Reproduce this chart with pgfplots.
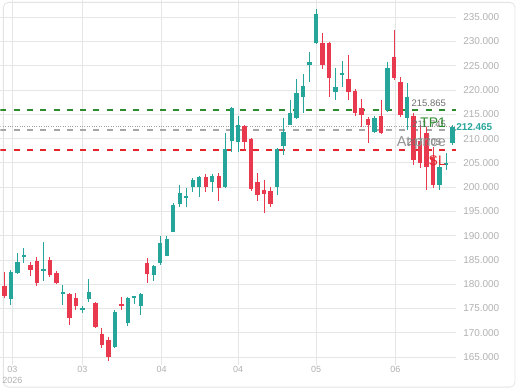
\documentclass[border=0pt]{standalone}
\usepackage{fontspec}
\setmainfont{Liberation Sans}
\usepackage{pgfplots}
\usepackage{pgfplotstable}
\pgfplotsset{compat=1.18}
\definecolor{up}{HTML}{26A69A}
\definecolor{dn}{HTML}{E8394F}
\definecolor{tpg}{HTML}{2E8B2E}
\definecolor{slr}{HTML}{E3262B}
\definecolor{gridc}{HTML}{E6E6E6}
\definecolor{lblc}{HTML}{B0B0B0}
\definecolor{txtg}{HTML}{6E6E6E}

\pgfplotstableread{
i o h l c
2 176.9 182.9 175.7 182.5
3 182.3 186.4 182.1 184.5
4 185.8 187.4 184.3 186.0
7 182.9 188.7 180.6 183.1
10 178.0 179.8 175.7 178.4
13 174.7 175.5 174.1 175.1
14 176.9 181.0 176.3 178.4
18 167.1 174.7 166.9 174.3
20 172.0 177.3 171.4 177.1
21 177.1 177.6 175.9 177.6
22 175.5 178.2 173.6 178.0
24 181.9 183.9 180.6 183.7
25 184.3 189.9 183.9 188.5
26 185.8 189.9 185.8 189.3
27 190.7 196.7 190.7 196.3
28 196.5 200.4 195.9 198.7
29 197.7 199.8 195.9 198.1
30 200.0 201.8 198.9 201.4
31 200.0 202.2 197.9 202.0
33 201.0 202.7 198.9 202.2
35 200.0 211.1 199.8 207.8
36 209.6 216.6 207.2 216.4
37 209.4 214.6 207.2 212.9
43 200.0 208.0 198.3 207.8
44 208.4 214.2 206.6 211.3
45 212.9 217.9 212.7 215.2
46 214.2 222.2 214.0 219.3
47 218.5 223.4 215.2 220.8
48 225.1 227.8 221.6 225.7
49 229.6 236.6 229.4 235.6
52 219.5 224.5 217.9 220.6
53 223.2 225.9 220.6 223.4
58 211.3 214.6 211.1 214.2
60 215.8 225.7 215.4 224.5
63 214.2 221.4 211.7 218.5
68 200.4 205.5 199.4 204.1
69 204.7 207.0 203.5 204.9
70 209.0 212.7 208.6 212.465
}\upcandles

\pgfplotstableread{
i o h l c
1 179.6 182.5 177.1 177.6
5 183.9 184.5 181.7 182.9
6 184.8 185.6 179.6 180.2
8 185.0 185.6 181.5 181.9
9 182.3 182.7 180.0 180.2
11 178.0 178.2 171.6 173.0
12 177.1 178.2 174.7 175.5
15 176.1 176.3 171.0 171.2
16 169.7 171.0 166.9 167.5
17 168.5 169.1 164.2 165.0
19 175.9 177.3 174.7 175.7
23 184.3 185.4 180.2 182.1
32 202.0 202.7 198.9 200.0
34 202.2 202.9 197.1 199.8
38 212.5 212.9 207.4 209.2
39 209.9 210.1 199.2 199.6
40 201.0 202.9 197.1 198.3
41 199.4 201.4 194.6 198.5
42 199.2 200.0 195.9 196.5
50 229.6 231.7 224.3 225.1
51 229.6 229.8 218.5 222.4
54 222.2 227.3 217.9 219.5
55 219.8 220.2 214.6 215.2
56 216.4 218.1 212.3 214.8
57 214.0 214.4 209.0 212.7
59 214.6 217.9 211.0 211.1
61 226.9 232.3 222.0 222.4
62 221.6 222.6 214.4 214.8
64 214.6 215.2 204.5 205.5
65 209.6 212.7 203.9 204.9
66 211.1 212.3 199.4 204.1
67 206.2 208.2 199.8 200.4
}\dncandles

\pgfplotsset{
  wick/.style={draw=none, mark=none, error bars/.cd, y dir=both, y explicit, error mark=none,
    error bar style={solid, line width=0.9bp, draw=#1}},
  body/.style={draw=none, mark=none, error bars/.cd, y dir=both, y explicit, error mark=none,
    error bar style={solid, line width=4.4bp, draw=#1}},
}

\begin{document}
\begin{tikzpicture}[x=1bp,y=1bp]
\path (0,-25) rectangle (520,365);
\draw[gray!22, line width=0.8bp, rounded corners=5bp] (3,-22) rectangle (515,363);
\begin{axis}[
  anchor=south west,
  width=456bp, height=365bp, scale only axis,
  xmin=0.38, xmax=70.55, ymin=163.35, ymax=238.46,
  clip mode=individual,
  axis line style={draw=none},
  major tick length=0pt,
  xtick={2.23,13.0,25.2,37.0,49.0,61.2},
  xticklabels={{03\\2026},03,04,04,05,06},
  xticklabel style={align=center, font=\fontsize{9}{11.5}\selectfont, text=lblc, inner sep=0pt, anchor=north, yshift=-0.5bp},
  ytick={165,170,...,235},
  yticklabel pos=right,
  yticklabel style={anchor=west, xshift=3.7bp, font=\fontsize{10}{12}\selectfont, text=lblc,
    /pgf/number format/.cd, fixed, fixed zerofill, precision=3, 1000 sep={}, assume math mode=true},
  grid=major,
  major grid style={gridc, line width=0.8bp},
]
% level lines
\addplot[tpg, line width=2bp, dash pattern=on 6bp off 7.3bp] coordinates {(0.38,215.865) (70.55,215.865)};
\addplot[gray!75, line width=0.6bp, dash pattern=on 0.8bp off 1.6bp] coordinates {(0.38,212.465) (70.55,212.465)};
\addplot[gray!70, line width=2bp, dash pattern=on 6bp off 7.3bp] coordinates {(0.38,211.72) (70.55,211.72)};
\addplot[slr, line width=2bp, dash pattern=on 6bp off 7.3bp] coordinates {(0.38,207.74) (70.55,207.74)};
% wicks
\addplot[wick=up] table[x=i, y expr={(\thisrow{h}+\thisrow{l})/2}, y error expr={(\thisrow{h}-\thisrow{l})/2}] {\upcandles};
\addplot[wick=dn] table[x=i, y expr={(\thisrow{h}+\thisrow{l})/2}, y error expr={(\thisrow{h}-\thisrow{l})/2}] {\dncandles};
% bodies
\addplot[body=up] table[x=i, y expr={(\thisrow{o}+\thisrow{c})/2}, y error expr={max(abs(\thisrow{c}-\thisrow{o})/2,0.12)}] {\upcandles};
\addplot[body=dn] table[x=i, y expr={(\thisrow{o}+\thisrow{c})/2}, y error expr={max(abs(\thisrow{c}-\thisrow{o})/2,0.12)}] {\dncandles};
% annotations
\node[anchor=east, inner sep=0pt, font=\fontsize{9.5}{11}\selectfont, text=txtg] at (axis cs:69.0,217.26) {215.865};
\node[anchor=east, inner sep=0pt, font=\fontsize{9.5}{11}\selectfont, text=txtg] at (axis cs:69.0,213.05) {211.745};
\node[anchor=east, inner sep=0pt, font=\fontsize{14}{16}\selectfont, text=tpg] at (axis cs:69.0,213.35) {TP1};
\node[anchor=east, inner sep=0pt, font=\fontsize{9.5}{11}\selectfont, text=txtg] at (axis cs:68.3,209.3) {207.705};
\node[anchor=east, inner sep=0pt, font=\fontsize{14.5}{16}\selectfont, text=gray!85] at (axis cs:69.0,209.2) {At price};
\node[anchor=east, inner sep=0pt, font=\fontsize{14}{16}\selectfont, text=slr] at (axis cs:69.0,205.5) {SL};
\node[anchor=west, inner sep=0pt, font=\bfseries\fontsize{10}{12}\selectfont, text=up] at (axis cs:70.55,212.465) {212.465};
\end{axis}
\end{tikzpicture}
\end{document}
